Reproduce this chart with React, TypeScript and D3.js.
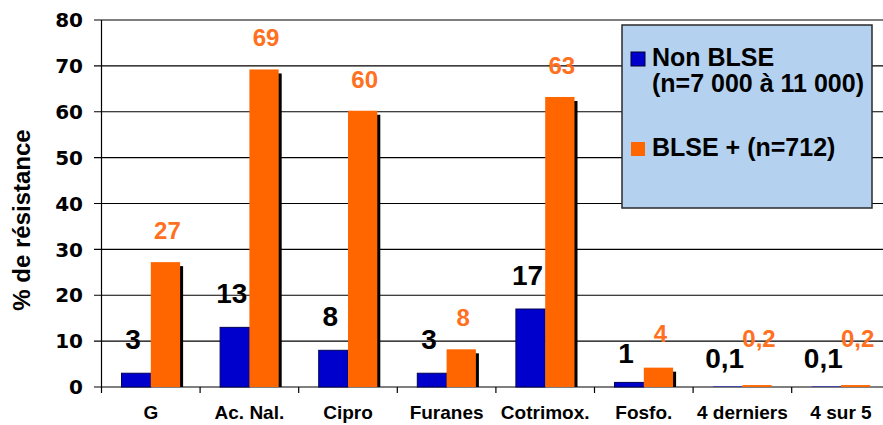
import { useRef, useEffect } from "react";
import * as d3 from "d3";

// categories + values
const categories = ["G", "Ac. Nal.", "Cipro", "Furanes", "Cotrimox.", "Fosfo.", "4 derniers", "4 sur 5"];
const nonBlse = [3, 13, 8, 3, 17, 1, 0.1, 0.1];
const blsePlus = [27, 69, 60, 8, 63, 4, 0.2, 0.2];
const yTicks = [0, 10, 20, 30, 40, 50, 60, 70, 80];
const legendLabels = [["Non BLSE", "(n=7 000 à 11 000)"], ["BLSE + (n=712)"]];

const W = 883;
const H = 425;
const BLUE = "#0000CC";
const ORANGE = "#FF6600";

const fr = d3.formatLocale({ decimal: ",", thousands: " ", grouping: [3], currency: ["", " €"] });
const fmt = (v: number) => fr.format("~g")(v);

function draw(node: SVGSVGElement | null) {
  if (!node) return () => {};
  const svg = d3.select(node);

  const x = d3.scaleBand<string>().domain(categories).range([101.5, 101.5 + 8 * 98.6]);
  const inner = d3.scaleBand<string>().domain(["a", "b"]).range([20, x.bandwidth() - 20]);
  const y = d3.scaleLinear().domain([0, 80]).range([387, 20]);

  // gridlines
  svg
    .append("g")
    .selectAll("line")
    .data(yTicks)
    .join("line")
    .attr("x1", 94)
    .attr("x2", W)
    .attr("y1", (d) => y(d))
    .attr("y2", (d) => y(d))
    .attr("stroke", "#000")
    .attr("stroke-width", 1.2);

  // y axis line
  svg.append("line").attr("x1", 101.5).attr("x2", 101.5).attr("y1", y(80)).attr("y2", y(0)).attr("stroke", "#000").attr("stroke-width", 1.2);

  // category ticks
  svg
    .append("g")
    .selectAll("line")
    .data(categories)
    .join("line")
    .attr("x1", (d) => x(d)!)
    .attr("x2", (d) => x(d)!)
    .attr("y1", y(0))
    .attr("y2", y(0) + 6)
    .attr("stroke", "#000")
    .attr("stroke-width", 1.2);

  // y tick labels
  svg
    .append("g")
    .selectAll("text")
    .data(yTicks)
    .join("text")
    .attr("x", 83)
    .attr("y", (d) => y(d))
    .attr("dy", "0.36em")
    .attr("text-anchor", "end")
    .attr("font-family", "DejaVu Sans, Verdana, sans-serif")
    .attr("font-weight", "bold")
    .attr("font-size", 20)
    .attr("fill", "#000")
    .text((d) => d);

  // y title
  svg
    .append("text")
    .attr("transform", `translate(30,${220}) rotate(-90)`)
    .attr("text-anchor", "middle")
    .attr("font-family", "Liberation Sans, Arial, sans-serif")
    .attr("font-weight", "bold")
    .attr("font-size", 24)
    .text("% de résistance");

  // category labels
  svg
    .append("g")
    .selectAll("text")
    .data(categories)
    .join("text")
    .attr("x", (d) => x(d)! + x.bandwidth() / 2)
    .attr("y", 419)
    .attr("text-anchor", "middle")
    .attr("font-family", "Liberation Sans, Arial, sans-serif")
    .attr("font-weight", "bold")
    .attr("font-size", 19)
    .text((d) => d);

  const groups = svg
    .append("g")
    .selectAll("g")
    .data(categories.map((c, i) => ({ c, a: nonBlse[i], b: blsePlus[i] })))
    .join("g")
    .attr("transform", (d) => `translate(${x(d.c)},0)`);

  // orange shadow
  groups
    .append("rect")
    .attr("x", inner("b")! + 3)
    .attr("y", (d) => y(d.b) + 3)
    .attr("width", inner.bandwidth())
    .attr("height", (d) => Math.max(0, y(0) - y(d.b) - 3))
    .attr("fill", "#000");

  groups
    .append("rect")
    .attr("x", inner("a")!)
    .attr("y", (d) => y(d.a))
    .attr("width", inner.bandwidth())
    .attr("height", (d) => y(0) - y(d.a))
    .attr("fill", BLUE)
    .attr("stroke", (d) => (y(0) - y(d.a) > 2 ? "#000055" : "none"))
    .attr("stroke-width", 1);

  groups
    .append("rect")
    .attr("x", inner("b")!)
    .attr("y", (d) => y(d.b) - 1)
    .attr("width", inner.bandwidth())
    .attr("height", (d) => y(0) - y(d.b) + 1)
    .attr("fill", ORANGE);

  // value labels
  const blueLabelY = (v: number) => y(v) - (y(0) - y(v) < 5 ? 19 : 24);
  groups
    .append("text")
    .attr("x", inner("a")! + inner.bandwidth() / 2 - 3)
    .attr("y", (d) => blueLabelY(d.a))
    .attr("text-anchor", "middle")
    .attr("font-family", "Liberation Sans, Arial, sans-serif")
    .attr("font-weight", "bold")
    .attr("font-size", 28)
    .attr("fill", "#000")
    .text((d) => fmt(d.a));

  // orange label kept clear of the blue one
  groups
    .append("text")
    .attr("x", inner("b")! + inner.bandwidth() / 2 + 2)
    .attr("y", (d) => Math.min(y(d.b) - 24, blueLabelY(d.a) - 21))
    .attr("text-anchor", "middle")
    .attr("font-family", "Liberation Sans, Arial, sans-serif")
    .attr("font-weight", "bold")
    .attr("font-size", 24)
    .attr("fill", "#FF7020")
    .text((d) => fmt(d.b));

  // legend
  const lg = svg.append("g").attr("transform", "translate(622,25)");
  lg.append("rect").attr("width", 250).attr("height", 183).attr("fill", "#B4D2F0").attr("stroke", "#2a2a2a").attr("stroke-width", 1.5);
  [BLUE, ORANGE].forEach((col, i) => {
    const yy = i === 0 ? 41 : 131;
    lg.append("rect")
      .attr("x", 9)
      .attr("y", yy - 14)
      .attr("width", 14)
      .attr("height", 14)
      .attr("fill", col)
      .attr("stroke", i === 0 ? "#000033" : "none");
    legendLabels[i].forEach((t, j) => {
      lg.append("text")
        .attr("x", 30)
        .attr("y", yy + j * 26)
        .attr("font-family", "Liberation Sans, Arial, sans-serif")
        .attr("font-weight", "bold")
        .attr("font-size", 25)
        .attr("fill", "#000")
        .text(t);
    });
  });

  return () => {
    svg.selectAll("*").remove();
  };
}

export default function App() {
  const ref = useRef<SVGSVGElement>(null);
  useEffect(() => draw(ref.current), []);
  return (
    <svg
      ref={ref}
      width={W}
      height={H}
      style={{ position: "absolute", left: 0, top: 0, background: "#fff" }}
    />
  );
}
